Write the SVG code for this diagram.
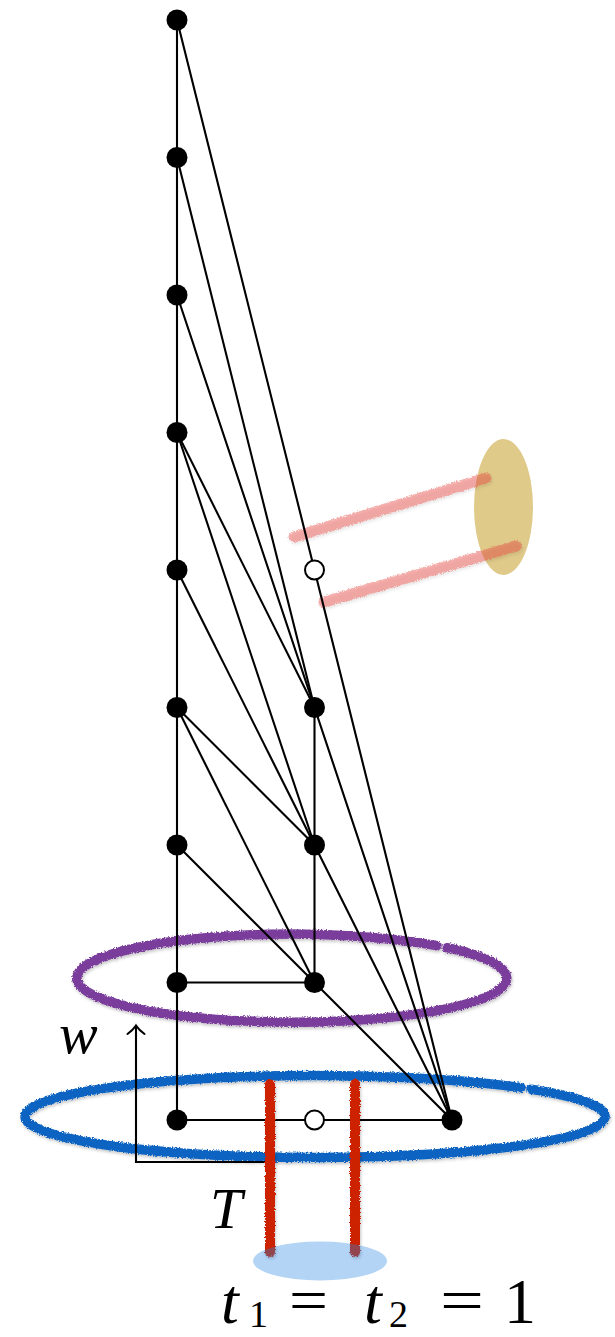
<svg xmlns="http://www.w3.org/2000/svg" width="615" height="1337" viewBox="0 0 615 1337">
  <style>
    .edge { stroke: #000; stroke-width: 2.1; fill: none; stroke-linecap: round; }
    .node { fill: #000; }
    .open { fill: #fff; stroke: #000; stroke-width: 2; }
    .crayon { fill: none; stroke-linecap: round; filter: url(#crayon); }
    .math { font-family: "Liberation Serif", "DejaVu Serif", serif; fill: #000; }
    .it { font-style: italic; }
  </style>
  <defs>
    <filter id="crayon" filterUnits="userSpaceOnUse" x="0" y="0" width="615" height="1337">
      <feTurbulence type="fractalNoise" baseFrequency="0.8" numOctaves="2" seed="4" result="noise"/>
      <feDisplacementMap in="SourceGraphic" in2="noise" scale="4" xChannelSelector="R" yChannelSelector="G" result="disp"/>
      <feTurbulence type="fractalNoise" baseFrequency="1.2" numOctaves="1" seed="9" result="grain"/>
      <feColorMatrix in="grain" type="matrix" values="0 0 0 0 0  0 0 0 0 0  0 0 0 0 0  0 0 0 -3 3.3" result="mask"/>
      <feComposite in="disp" in2="mask" operator="in" result="tex"/>
      <feDropShadow in="tex" dx="1" dy="2" stdDeviation="1.5" flood-color="#000" flood-opacity="0.22"/>
    </filter>
  </defs>
  <rect width="615" height="1337" fill="#fff"/>

  <!-- tan ellipse and pink strokes -->
  <g id="source">
    <ellipse cx="503.5" cy="507" rx="29.5" ry="68" fill="#dfca8a"/>
    <line class="crayon" x1="294" y1="537" x2="486" y2="478" stroke="rgb(232,70,60)" stroke-opacity="0.42" stroke-width="11"/>
    <line class="crayon" x1="324" y1="602" x2="516" y2="546" stroke="rgb(232,70,60)" stroke-opacity="0.42" stroke-width="11"/>
  </g>

  <!-- rings -->
  <g id="ring-purple">
    <path class="crayon" d="M 447 947.7 A 215 44 0 1 1 437 945.7" stroke="#7a3d9b" stroke-width="9.5"/>
  </g>
  <g id="ring-blue">
    <path class="crayon" d="M 531 1089.2 A 290 41 0 1 1 521 1087.7" stroke="#0b63c1" stroke-width="9.5"/>
  </g>

  <!-- axis -->
  <g id="axis">
    <path class="edge" d="M 270 1162 H 136 V 1026" stroke-width="1.8"/>
    <path class="edge" d="M 127.5 1034 Q 133 1030 136 1025.5 Q 139 1030 144.5 1034" stroke-width="1.8"/>
  </g>

  <!-- connectors -->
  <g id="connectors">
    <line class="edge" x1="177" y1="20" x2="177" y2="1120"/>
    <line class="edge" x1="177" y1="20" x2="452" y2="1120"/>
    <line class="edge" x1="177" y1="157.5" x2="314.5" y2="707.5"/>
    <line class="edge" x1="177" y1="295" x2="452" y2="1120"/>
    <line class="edge" x1="177" y1="432.5" x2="314.5" y2="707.5"/>
    <line class="edge" x1="177" y1="432.5" x2="314.5" y2="845"/>
    <line class="edge" x1="177" y1="570" x2="314.5" y2="845"/>
    <line class="edge" x1="177" y1="707.5" x2="314.5" y2="845"/>
    <line class="edge" x1="177" y1="707.5" x2="314.5" y2="982.5"/>
    <line class="edge" x1="177" y1="845" x2="314.5" y2="982.5"/>
    <line class="edge" x1="177" y1="982.5" x2="314.5" y2="982.5"/>
    <line class="edge" x1="177" y1="1120" x2="452" y2="1120"/>
    <line class="edge" x1="314.5" y1="707.5" x2="314.5" y2="982.5"/>
    <line class="edge" x1="314.5" y1="845" x2="452" y2="1120"/>
    <line class="edge" x1="314.5" y1="982.5" x2="452" y2="1120"/>
  </g>

  <!-- nodes -->
  <g id="n-L0"><circle class="node" cx="177" cy="20" r="10.5"/></g>
  <g id="n-L1"><circle class="node" cx="177" cy="157.5" r="10.5"/></g>
  <g id="n-L2"><circle class="node" cx="177" cy="295" r="10.5"/></g>
  <g id="n-L3"><circle class="node" cx="177" cy="432.5" r="10.5"/></g>
  <g id="n-L4"><circle class="node" cx="177" cy="570" r="10.5"/></g>
  <g id="n-L5"><circle class="node" cx="177" cy="707.5" r="10.5"/></g>
  <g id="n-L6"><circle class="node" cx="177" cy="845" r="10.5"/></g>
  <g id="n-L7"><circle class="node" cx="177" cy="982.5" r="10.5"/></g>
  <g id="n-L8"><circle class="node" cx="177" cy="1120" r="10.5"/></g>
  <g id="n-M4"><circle class="open" cx="314.5" cy="570" r="9.5"/></g>
  <g id="n-M5"><circle class="node" cx="314.5" cy="707.5" r="10.5"/></g>
  <g id="n-M6"><circle class="node" cx="314.5" cy="845" r="10.5"/></g>
  <g id="n-M7"><circle class="node" cx="314.5" cy="982.5" r="10.5"/></g>
  <g id="n-M8"><circle class="open" cx="314.5" cy="1120" r="9.5"/></g>
  <g id="n-R"><circle class="node" cx="452" cy="1120" r="10.5"/></g>

  <!-- red strands and blob -->
  <g id="strands">
    <line class="crayon" x1="270" y1="1084" x2="270" y2="1252" stroke="#cc2200" stroke-width="10" stroke-linecap="butt"/>
    <line class="crayon" x1="355" y1="1084" x2="355" y2="1252" stroke="#cc2200" stroke-width="10" stroke-linecap="butt"/>
  </g>
  <g id="blob">
    <ellipse cx="320" cy="1261" rx="67" ry="19.5" fill="rgb(37,132,226)" fill-opacity="0.35"/>
  </g>

  <!-- labels -->
  <g id="labels">
    <text class="math it" x="59" y="1053" font-size="58">w</text>
    <text class="math it" x="210" y="1228" font-size="58">T</text>
    <text class="math it" x="221" y="1323" font-size="64">t</text>
    <text class="math" x="249" y="1327" font-size="38">1</text>
    <text class="math" x="289" y="1321" font-size="62" textLength="39" lengthAdjust="spacingAndGlyphs">=</text>
    <text class="math it" x="364" y="1323" font-size="64">t</text>
    <text class="math" x="389" y="1327" font-size="38">2</text>
    <text class="math" x="440" y="1321" font-size="62" textLength="44" lengthAdjust="spacingAndGlyphs">=</text>
    <text class="math" x="504" y="1323" font-size="64">1</text>
  </g>
</svg>
